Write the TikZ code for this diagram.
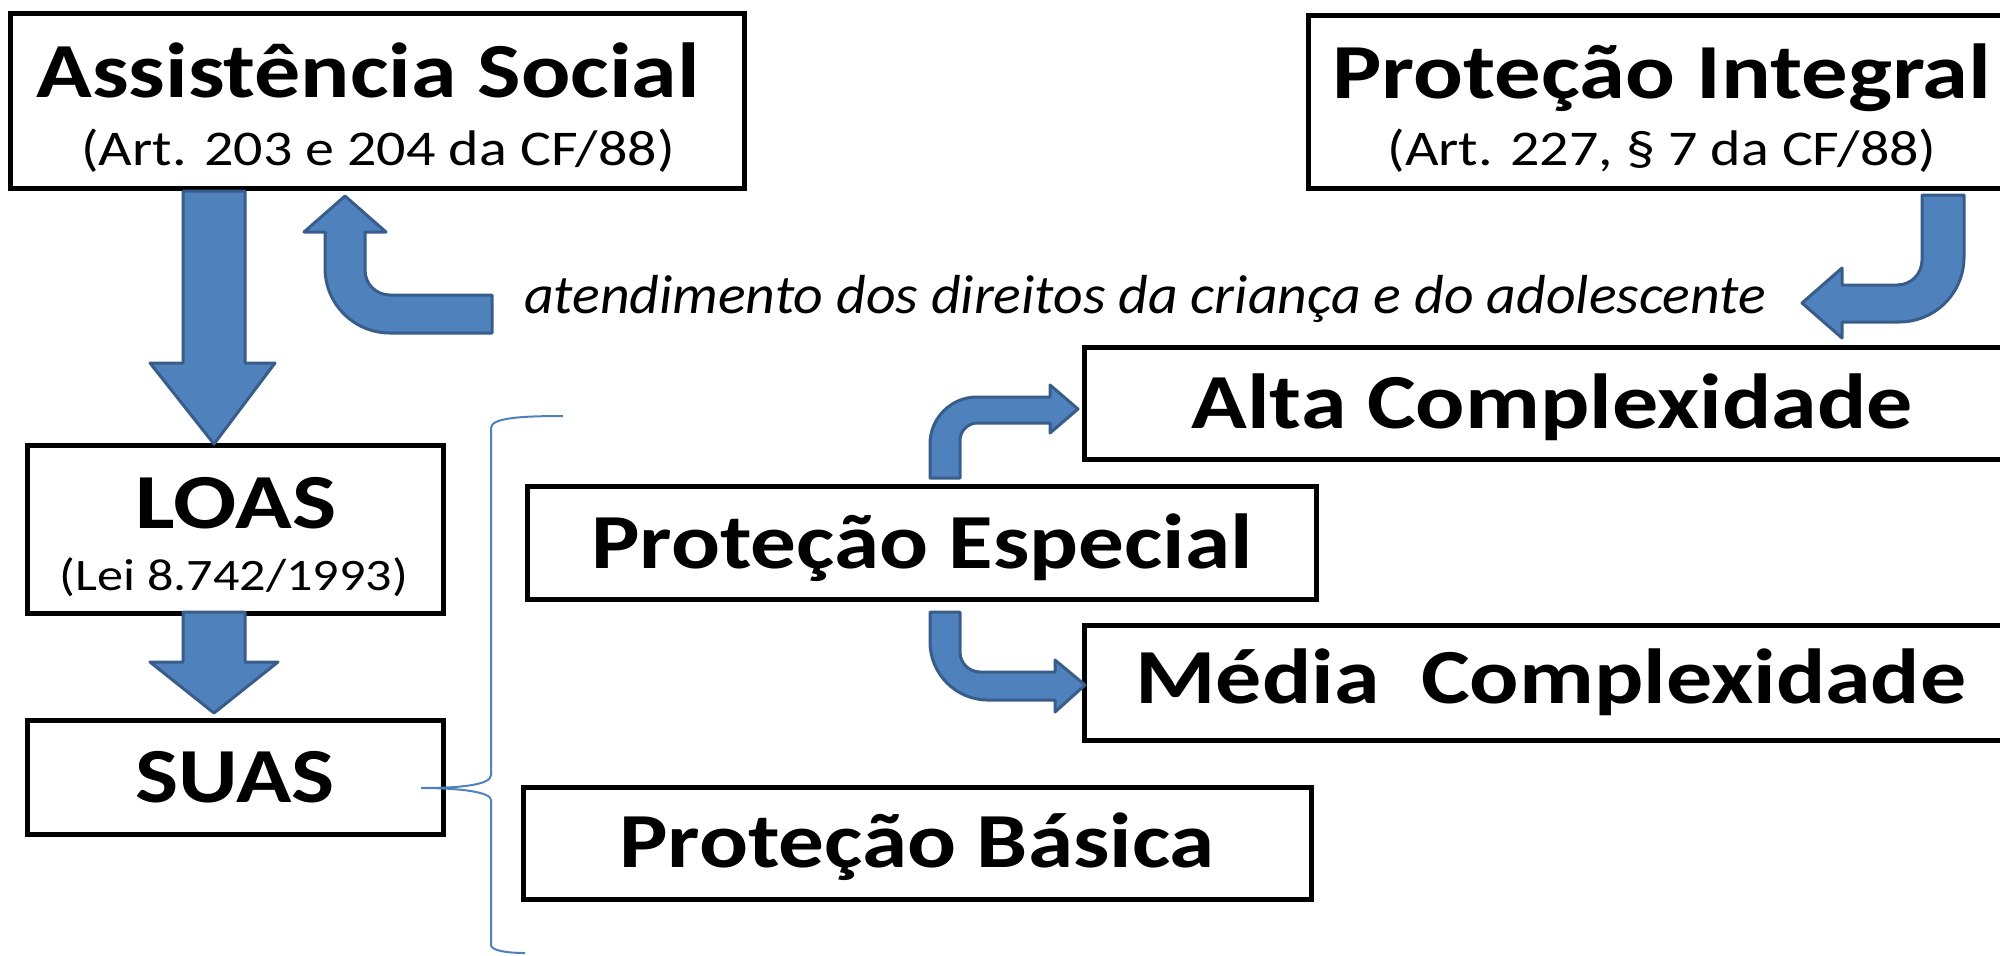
\documentclass[tikz,border=0pt]{standalone}
\usepackage{fontspec}
\usepackage{graphicx}
\setmainfont{Carlito}
\usetikzlibrary{fit}
\definecolor{arrfill}{HTML}{4F81BD}
\definecolor{arrline}{HTML}{385D8A}
\newcommand\hstr[2]{\scalebox{#1}[1]{#2}}
\begin{document}
\begin{tikzpicture}[x=0.5pt,y=-0.5pt,
  box/.style={draw=black,line width=2.5pt,inner sep=0pt,rectangle},
  title/.style={anchor=base,inner sep=0pt,font=\fontsize{39}{40}\selectfont\bfseries},
  subt/.style={anchor=base,inner sep=0pt,font=\fontsize{25}{26}\selectfont},
  subs/.style={anchor=base,inner sep=0pt,font=\fontsize{22.5}{23}\selectfont},
  note/.style={anchor=base,inner sep=0pt,font=\fontsize{27.5}{28}\selectfont\itshape},
  arr/.style={fill=arrfill,draw=arrline,line width=1.5pt,line join=round},
  brace/.style={draw=arrfill,line width=1pt}]
\useasboundingbox (0,0) rectangle (2000,955);
\clip (0,0) rectangle (2000,955);
% boxes
\node[box,fit={(10,13) (744,188)}] (assist) {};
\node[box,fit={(1308,15) (2016,188)}] (integ) {};
\node[box,fit={(27,445) (443,613)}] (loas) {};
\node[box,fit={(27,720) (443,834)}] (suas) {};
\node[box,fit={(1084,347) (2020,459)}] (alta) {};
\node[box,fit={(527,486) (1316,599)}] (esp) {};
\node[box,fit={(1084,625) (2020,740)}] (media) {};
\node[box,fit={(523,787) (1311,899)}] (basica) {};
% texts
\node[title] (tassist) at (368,97) {\hstr{1.18}{Assistência Social}};
\node[subt] (sassist) at (378,165) {\hstr{1.16}{(Art. 203 e 204 da CF/88)}};
\node[title] (tinteg) at (1662,98) {\hstr{1.19}{Proteção Integral}};
\node[subt] (sinteg) at (1662,165) {\hstr{1.16}{(Art. 227, § 7 da CF/88)}};
\node[title] (tloas) at (236,528) {\hstr{1.2}{LOAS}};
\node[subs] (sloas) at (234,590) {\hstr{1.16}{(Lei 8.742/1993)}};
\node[title] (tsuas) at (235,802) {\hstr{1.17}{SUAS}};
\node[title] (tesp) at (922,568) {\hstr{1.17}{Proteção Especial}};
\node[title] (talta) at (1552,428) {\hstr{1.18}{Alta Complexidade}};
\node[title] (tmedia) at (1551,703) {\hstr{1.18}{Média\hspace{0.45em}Complexidade}};
\node[title] (tbasica) at (917,867) {\hstr{1.17}{Proteção Básica}};
\node[note] (tnote) at (1145,313) {\hstr{1.05}{atendimento dos direitos da criança e do adolescente}};
% block arrows
\draw[arr] (183,191) -- (245,191) -- (245,363) -- (275,363) -- (214,444) -- (150,363) -- (183,363) -- cycle;
\draw[arr] (183,612) -- (245,612) -- (245,662) -- (278,662) -- (214,713) -- (150,662) -- (183,662) -- cycle;
\draw[arr] (492,295) -- (390,295) .. controls (376,295) and (365,284) .. (365,270) -- (365,232) -- (386,232) -- (345,196) -- (304,232) -- (325,232) -- (325,268) .. controls (325,304) and (354,333) .. (390,333) -- (492,333) -- cycle;
\draw[arr] (1922,195) -- (1964,195) -- (1964,257) .. controls (1964,293) and (1935,322) .. (1899,322) -- (1842,322) -- (1842,338) -- (1802,303) -- (1842,268) -- (1842,285) -- (1897,285) .. controls (1911,285) and (1922,274) .. (1922,260) -- cycle;
\draw[arr] (930,478) -- (930,444) .. controls (930,418) and (951,397) .. (977,397) -- (1050,397) -- (1050,385) -- (1078,409) -- (1050,433) -- (1050,423) -- (977,423) .. controls (968,423) and (960,431) .. (960,440) -- (960,478) -- cycle;
\draw[arr] (930,612) -- (960,612) -- (960,652) .. controls (960,663) and (969,672) .. (980,672) -- (1055,672) -- (1055,660) -- (1085,685) -- (1055,712) -- (1055,700) -- (988,700) .. controls (956,700) and (930,674) .. (930,642) -- cycle;
% brace
\coordinate (btop) at (563,416);
\coordinate (btip) at (421,788);
\coordinate (bbot) at (525,953);
\draw[brace] (btop) .. controls (520,416) and (491,418) .. (491,428) -- (491,775) .. controls (491,785) and (460,788) .. (btip) .. controls (460,788) and (491,792) .. (491,800) -- (491,945) .. controls (491,950) and (505,953) .. (bbot);
\end{tikzpicture}
\end{document}
